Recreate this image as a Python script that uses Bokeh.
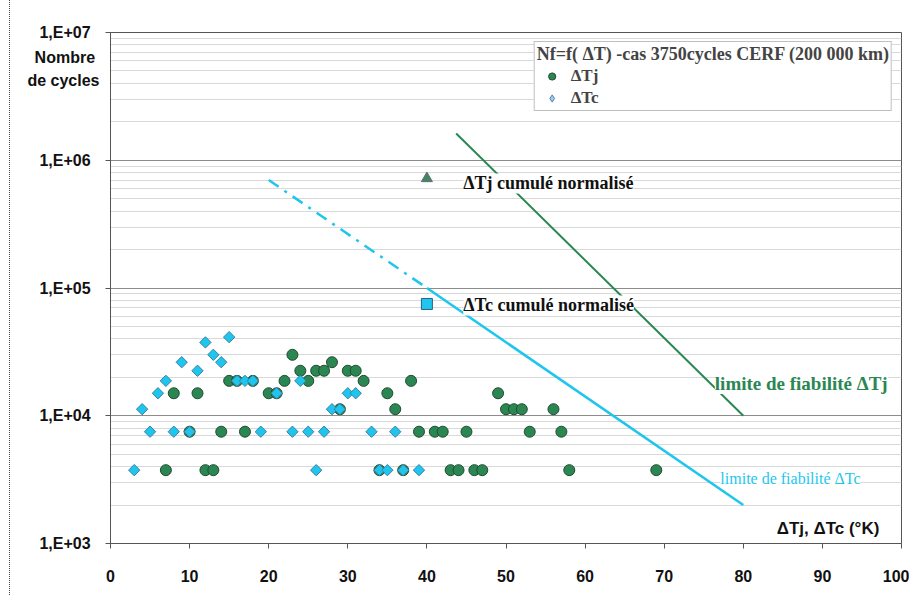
import math
from bokeh.plotting import figure
from bokeh.models import (Range1d, FixedTicker, Label, Legend, LegendItem,
                          CustomJSTickFormatter)
from bokeh.embed import file_html
from bokeh.resources import INLINE

# ---------------- data ----------------
delta_tj = [7, 8, 10, 11, 12, 13, 14, 15, 16, 17, 18, 20, 21, 22, 23, 24, 25, 26, 27, 28,
            29, 30, 31, 32, 34, 35, 36, 37, 38, 39, 41, 42, 43, 44, 45, 46, 47, 49, 50, 51,
            52, 53, 56, 57, 58, 69]
nf_tj = [3750, 15000, 7500, 15000, 3750, 3750, 7500, 18750, 18750, 7500, 18750, 15000, 15000,
         18750, 30000, 22500, 18750, 22500, 22500, 26250, 11250, 22500, 22500, 18750, 3750,
         15000, 11250, 3750, 18750, 7500, 7500, 7500, 3750, 3750, 7500, 3750, 3750, 15000,
         11250, 11250, 11250, 7500, 11250, 7500, 3750, 3750]

delta_tc = [3, 4, 5, 6, 7, 8, 9, 10, 11, 12, 13, 14, 15, 16, 17, 18, 19, 21, 23, 24, 25, 26,
            27, 28, 29, 30, 31, 33, 34, 35, 36, 37, 39]
nf_tc = [3750, 11250, 7500, 15000, 18750, 7500, 26250, 7500, 22500, 37500, 30000, 26250, 41250,
         18750, 18750, 18750, 7500, 15000, 7500, 18750, 7500, 3750, 7500, 11250, 11250, 15000,
         15000, 7500, 3750, 3750, 7500, 3750, 3750]

tj_cumul_x = [40]
tj_cumul_y = [720000]
tc_cumul_x = [40]
tc_cumul_y = [75000]

tj_limit_x = [43.7, 80]
tj_limit_y = [1.62e6, 1.0e4]
tc_limit_dash_x = [20, 40]
tc_limit_dash_y = [7.0e5, 1.0e5]
tc_limit_solid_x = [40, 80]
tc_limit_solid_y = [1.0e5, 2.0e3]

y_tick_values = [1e3, 1e4, 1e5, 1e6, 1e7]
y_tick_labels = ["1,E+03", "1,E+04", "1,E+05", "1,E+06", "1,E+07"]
y_minor_values = [m * 10 ** e for e in range(3, 7) for m in range(2, 10)]
x_tick_values = [0, 10, 20, 30, 40, 50, 60, 70, 80, 90, 100]

legend_title = "Nf=f( ΔT) -cas 3750cycles CERF (200 000 km)"
y_title_lines = ["Nombre", "de cycles"]
y_title_positions = [6.37e6, 4.2e6]
x_title = "ΔTj, ΔTc (°K)"

# ---------------- figure ----------------
GREEN = "#2a8752"
CYAN = "#1ec6ee"
SANS = "Liberation Sans"
SERIF = "Liberation Serif"
AXIS = "#555555"

p = figure(width=900, height=595, output_backend="svg", toolbar_location=None,
           x_range=Range1d(0, 100), y_range=Range1d(1e3, 1e7), y_axis_type="log",
           min_border_left=100, min_border_right=9, min_border_top=32, min_border_bottom=52)
p.styles = {"margin-left": "9px", "border-left": "1px dotted #444"}
p.background_fill_color = "white"
p.border_fill_color = "white"
p.outline_line_color = AXIS
p.outline_line_width = 1

# grid (decades dark, sub-decades light)
p.xgrid.grid_line_color = None
p.ygrid.ticker = FixedTicker(ticks=y_tick_values, minor_ticks=y_minor_values)
p.ygrid.grid_line_color = "#8c8c8c"
p.ygrid.minor_grid_line_color = "#d9d9d9"

# y axis: decade labels plus the two-line axis title near the top
pad = "\u00a0\u00a0"
label_vals = y_tick_values + y_title_positions
label_txts = [t + pad for t in y_tick_labels] + [y_title_lines[0] + "\u00a0", y_title_lines[1]]
p.yaxis.ticker = FixedTicker(ticks=label_vals, minor_ticks=y_tick_values)
p.yaxis.formatter = CustomJSTickFormatter(
    args=dict(vals=label_vals, labs=label_txts),
    code="const i = vals.indexOf(tick); return i >= 0 ? labs[i] : '';")
p.yaxis.major_tick_line_color = None
p.yaxis.major_tick_out = 0
p.yaxis.major_tick_in = 0
p.yaxis.minor_tick_line_color = AXIS
p.yaxis.minor_tick_out = 5
p.yaxis.minor_tick_in = 0
p.yaxis.major_label_standoff = 6
p.yaxis.axis_line_color = AXIS

p.xaxis.ticker = FixedTicker(ticks=x_tick_values)
p.xaxis.axis_line_color = AXIS
p.xaxis.major_tick_line_color = AXIS
p.xaxis.major_tick_out = 5
p.xaxis.major_tick_in = 0
p.xaxis.minor_tick_line_color = None
p.xaxis.major_label_standoff = 21

for ax in (p.xaxis[0], p.yaxis[0]):
    ax.major_label_text_font = SANS
    ax.major_label_text_font_style = "bold"
    ax.major_label_text_font_size = "16px"
    ax.major_label_text_color = "#111111"

# limit lines
p.line(tj_limit_x, tj_limit_y, line_color=GREEN, line_width=2)
p.line(tc_limit_dash_x, tc_limit_dash_y, line_color=CYAN, line_width=2.5, line_dash="12 7 3 7")
p.line(tc_limit_solid_x, tc_limit_solid_y, line_color=CYAN, line_width=2.5)

# scatter series
r_tj = p.scatter(delta_tj, nf_tj, marker="circle", size=11, fill_color=GREEN,
                 line_color="#234a33", line_width=1)
r_tc = p.scatter(delta_tc, nf_tc, marker="square", angle=math.pi / 4, size=8,
                 fill_color=CYAN, line_color="#3a7fa5", line_width=1)
# legend swatch for the ΔTc series (drawn only in the legend)
r_tc_key = p.scatter([float("nan")], [float("nan")], marker="diamond", size=18,
                     fill_color="#9cc8f2", line_color="#5a7fa5", line_width=1)

p.scatter(tj_cumul_x, tj_cumul_y, marker="triangle", size=11, fill_color="#3f8a5c",
          line_color="#666680", line_width=1)
p.scatter(tc_cumul_x, tc_cumul_y, marker="square", size=11, fill_color=CYAN,
          line_color="#2a5f8a", line_width=1)

# annotations
def lab(x, y, text, color="#111111", font=SERIF, style="bold", size="18px", align="left",
        bg="white"):
    p.add_layout(Label(x=x, y=y, text=text, text_color=color, text_font=font,
                       text_font_style=style, text_font_size=size, text_align=align,
                       text_baseline="middle", background_fill_color=bg))

lab(44.6, 6.58e5, "ΔTj cumulé normalisé")
lab(44.6, 7.3e4, "ΔTc cumulé normalisé")
lab(76.4, 1.79e4, "limite de fiabilité ΔTj", color=GREEN, size="19px")
lab(77.1, 3.23e3, "limite de fiabilité ΔTc", color=CYAN, style="normal", size="16px")
lab(97.2, 1.31e3, x_title, font=SANS, size="17px", align="right", bg=None)

legend = Legend(items=[LegendItem(label="ΔTj", renderers=[r_tj]),
                       LegendItem(label="ΔTc", renderers=[r_tc_key])],
                title=legend_title, location="top_right")
legend.margin = 9
legend.padding = 2
legend.spacing = 2
legend.title_standoff = 1
legend.label_height = 18
legend.glyph_height = 18
legend.glyph_width = 30
legend.label_standoff = 4
legend.border_line_color = "#7f7f7f"
legend.border_line_width = 1
legend.background_fill_color = "white"
legend.background_fill_alpha = 1
legend.title_text_font = SERIF
legend.title_text_font_style = "bold"
legend.title_text_font_size = "18px"
legend.label_text_font = SERIF
legend.label_text_font_style = "bold"
legend.label_text_font_size = "17px"
p.add_layout(legend)

open("out.html", "w").write(file_html(p, INLINE))
